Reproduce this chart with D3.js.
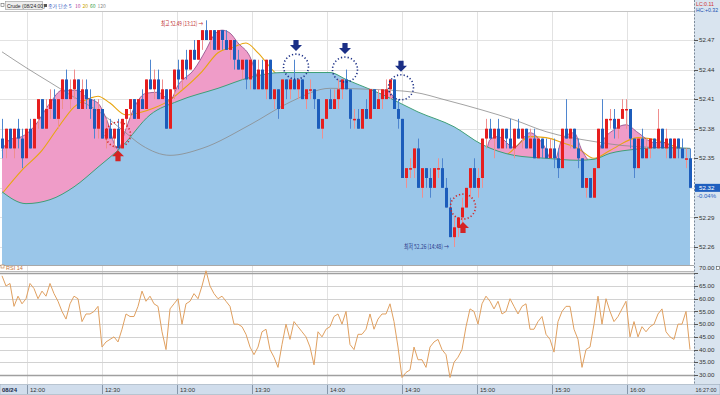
<!DOCTYPE html>
<html><head><meta charset="utf-8">
<script src="https://cdn.jsdelivr.net/npm/d3@7"></script>
<style>body{margin:0;background:#fff;}svg{display:block;font-family:"Liberation Sans","DejaVu Sans",sans-serif;}</style>
</head><body><svg id="c" width="720" height="395"></svg>
<script>
// ---------- DATA ----------
const cOpen=[
52.37,52.36,52.38,52.36,52.38,52.37,52.35,52.38,52.36,52.39,
52.41,52.38,52.40,52.41,52.39,52.41,52.43,52.41,52.42,52.43,
52.40,52.42,52.41,52.40,52.38,52.40,52.37,52.38,52.37,52.38,
52.36,52.39,52.40,52.41,52.39,52.41,52.40,52.43,52.42,52.43,
52.41,52.42,52.38,52.42,52.44,52.43,52.45,52.44,52.46,52.45,
52.47,52.48,52.47,52.48,52.46,52.48,52.47,52.46,52.47,52.45,
52.44,52.45,52.43,52.45,52.42,52.44,52.42,52.45,52.41,52.42,
52.40,52.43,52.42,52.43,52.42,52.43,52.41,52.42,52.42,52.41,
52.38,52.39,52.41,52.40,52.41,52.42,52.43,52.42,52.39,52.39,
52.38,52.40,52.39,52.42,52.40,52.41,52.41,52.42,52.43,52.40,
52.39,52.33,52.34,52.34,52.36,52.32,52.34,52.33,52.32,52.34,
52.34,52.32,52.30,52.27,52.28,52.29,52.30,52.32,52.34,52.32,
52.33,52.37,52.38,52.37,52.38,52.36,52.38,52.37,52.36,52.38,
52.37,52.38,52.36,52.37,52.35,52.37,52.36,52.35,52.36,52.35,
52.34,52.38,52.37,52.38,52.36,52.35,52.32,52.33,52.31,52.34,
52.38,52.36,52.39,52.39,52.38,52.39,52.40,52.40,52.37,52.34,
52.37,52.35,52.36,52.37,52.36,52.38,52.36,52.37,52.35,52.37,
52.36,52.35,52.35];
const cHigh=[
52.39,52.38,52.38,52.38,52.39,52.38,52.38,52.39,52.39,52.41,
52.41,52.41,52.42,52.42,52.41,52.43,52.44,52.43,52.44,52.43,
52.43,52.43,52.42,52.41,52.41,52.40,52.39,52.39,52.38,52.39,
52.39,52.40,52.41,52.41,52.41,52.42,52.43,52.45,52.44,52.44,
52.43,52.42,52.42,52.44,52.45,52.45,52.46,52.46,52.47,52.47,
52.48,52.49,52.48,52.48,52.48,52.48,52.48,52.47,52.47,52.46,
52.45,52.45,52.45,52.45,52.45,52.45,52.45,52.45,52.42,52.42,
52.43,52.43,52.43,52.45,52.43,52.43,52.42,52.43,52.42,52.41,
52.39,52.41,52.42,52.42,52.43,52.43,52.44,52.42,52.40,52.40,
52.40,52.41,52.42,52.42,52.42,52.42,52.43,52.43,52.43,52.41,
52.39,52.34,52.35,52.36,52.37,52.34,52.34,52.34,52.34,52.35,
52.35,52.33,52.31,52.29,52.29,52.31,52.32,52.34,52.35,52.34,
52.37,52.39,52.39,52.38,52.39,52.38,52.38,52.39,52.38,52.39,
52.38,52.38,52.38,52.38,52.37,52.37,52.37,52.37,52.37,52.36,
52.38,52.41,52.38,52.38,52.37,52.35,52.33,52.33,52.34,52.38,
52.41,52.39,52.40,52.40,52.39,52.41,52.41,52.40,52.37,52.37,
52.38,52.37,52.37,52.37,52.40,52.38,52.38,52.37,52.37,52.37,
52.37,52.36,52.36];
const cLow=[
52.35,52.35,52.36,52.35,52.36,52.34,52.35,52.36,52.36,52.38,
52.38,52.38,52.39,52.39,52.38,52.40,52.41,52.40,52.41,52.40,
52.40,52.40,52.39,52.37,52.37,52.37,52.36,52.37,52.36,52.36,
52.36,52.38,52.39,52.39,52.39,52.40,52.40,52.42,52.41,52.41,
52.41,52.38,52.38,52.41,52.42,52.42,52.43,52.44,52.45,52.45,
52.46,52.47,52.46,52.46,52.46,52.46,52.46,52.45,52.44,52.44,
52.43,52.42,52.42,52.42,52.42,52.42,52.41,52.41,52.40,52.39,
52.40,52.41,52.41,52.42,52.41,52.41,52.40,52.41,52.40,52.38,
52.37,52.39,52.40,52.40,52.40,52.41,52.42,52.38,52.38,52.38,
52.38,52.39,52.39,52.40,52.40,52.40,52.41,52.41,52.40,52.38,
52.33,52.32,52.33,52.33,52.32,52.31,52.32,52.31,52.32,52.33,
52.32,52.30,52.27,52.26,52.27,52.28,52.30,52.31,52.32,52.31,
52.32,52.36,52.37,52.35,52.36,52.36,52.36,52.36,52.35,52.37,
52.36,52.36,52.36,52.35,52.35,52.35,52.35,52.35,52.34,52.33,
52.34,52.37,52.36,52.36,52.34,52.32,52.31,52.31,52.31,52.34,
52.36,52.36,52.38,52.37,52.37,52.39,52.38,52.36,52.33,52.34,
52.35,52.35,52.35,52.36,52.36,52.36,52.35,52.35,52.35,52.35,
52.35,52.34,52.32];
const cClose=[
52.36,52.38,52.36,52.38,52.37,52.35,52.38,52.36,52.39,52.41,
52.38,52.40,52.41,52.39,52.41,52.43,52.41,52.42,52.43,52.40,
52.42,52.41,52.40,52.38,52.40,52.37,52.38,52.37,52.38,52.36,
52.39,52.40,52.41,52.39,52.41,52.40,52.43,52.42,52.43,52.41,
52.42,52.38,52.42,52.44,52.43,52.45,52.44,52.46,52.45,52.47,
52.48,52.47,52.48,52.46,52.48,52.47,52.46,52.47,52.45,52.44,
52.45,52.43,52.45,52.42,52.44,52.42,52.45,52.41,52.42,52.40,
52.43,52.42,52.43,52.42,52.43,52.41,52.42,52.42,52.41,52.38,
52.39,52.41,52.40,52.41,52.42,52.43,52.42,52.39,52.39,52.38,
52.40,52.39,52.42,52.40,52.41,52.42,52.42,52.43,52.40,52.39,
52.33,52.34,52.34,52.36,52.32,52.34,52.33,52.32,52.34,52.34,
52.32,52.30,52.27,52.28,52.29,52.30,52.32,52.34,52.32,52.33,
52.37,52.38,52.37,52.38,52.36,52.38,52.37,52.36,52.38,52.37,
52.38,52.36,52.37,52.35,52.37,52.36,52.35,52.36,52.35,52.34,
52.38,52.37,52.38,52.36,52.35,52.32,52.33,52.31,52.34,52.38,
52.36,52.39,52.39,52.38,52.39,52.40,52.40,52.37,52.34,52.37,
52.35,52.36,52.37,52.36,52.38,52.36,52.37,52.35,52.37,52.36,
52.35,52.35,52.32];
// moving averages as [candle index, value]
const ma10=[[0,52.358],[2,52.369],[5,52.372],[8,52.382],[12,52.406],[15,52.419],[19,52.419],[21,52.412],[24,52.406],[26,52.391],[29,52.359],[31,52.380],[33,52.401],[36,52.416],[39,52.417],[42,52.409],[44,52.424],[48,52.440],[51,52.460],[53,52.475],[55,52.480],[57,52.477],[59,52.467],[62,52.453],[64,52.431],[67,52.419],[72,52.424],[80,52.415],[86,52.418],[93,52.410],[96,52.419],[99,52.405],[102,52.38],[106,52.35],[110,52.33],[114,52.30],[118,52.31],[121,52.355],[122,52.369],[124,52.372],[128,52.361],[132,52.376],[135,52.366],[138,52.346],[140,52.369],[143,52.376],[145,52.358],[148,52.344],[150,52.366],[153,52.379],[156,52.384],[159,52.376],[163,52.366],[166,52.366],[168,52.358],[172,52.355]];
const ma20=[[0,52.314],[5,52.338],[10,52.358],[14,52.381],[18,52.402],[22,52.411],[24,52.413],[27,52.406],[31,52.394],[35,52.397],[38,52.401],[42,52.409],[45,52.419],[50,52.438],[54,52.457],[58,52.463],[61,52.467],[64,52.457],[68,52.438],[72,52.425],[82,52.415],[95,52.41],[105,52.37],[113,52.345],[120,52.340],[127,52.356],[132,52.372],[136,52.371],[140,52.366],[144,52.360],[148,52.350],[152,52.358],[159,52.371],[163,52.369],[169,52.361],[172,52.358]];
const ma60=[[0,52.316],[6,52.304],[12,52.308],[18,52.321],[24,52.341],[30,52.362],[37,52.394],[44,52.408],[54,52.421],[62,52.432],[70,52.437],[82,52.437],[86,52.430],[96,52.413],[104,52.397],[113,52.382],[120,52.364],[128,52.353],[136,52.350],[144,52.348],[148,52.349],[152,52.355],[158,52.359],[165,52.361],[172,52.360]];
const ma120=[[0,52.458],[6,52.442],[12,52.427],[18,52.412],[24,52.398],[30,52.379],[35,52.363],[42,52.353],[50,52.360],[62,52.384],[72,52.407],[82,52.421],[92,52.420],[103,52.417],[111,52.409],[120,52.399],[128,52.389],[136,52.377],[148,52.367],[155,52.363],[163,52.361],[172,52.360]];
const rsi=[
69,65,66,57,61,58,60,66,64,60,
63,61,66,62,59,55,52,58,61,60,
51,54,54,55,57,41,43,44,45,43,
48,54,53,53,57,63,59,61,58,57,
47,40,56,58,60,50,58,59,62,60,
65,71,65,62,60,61,59,57,50,50,
49,46,41,38,41,47,48,40,37,33,
42,50,44,51,49,47,45,41,34,47,
45,48,49,53,54,50,55,42,40,46,
46,48,54,48,52,54,54,58,51,41,
29,31,32,41,36,36,33,41,43,44,
40,38,29,35,37,40,49,56,55,50,
58,61,59,56,59,54,55,60,57,54,
57,58,48,48,51,53,46,44,39,51,
55,57,57,48,44,33,40,41,50,61,
50,60,55,51,53,56,59,45,51,45,
49,47,49,50,54,56,47,45,44,50,
50,55,40];
const priceTicks=[52.47,52.44,52.41,52.38,52.35,52.32,52.29,52.26];
const rsiTicks=[70,65,60,55,50,45,40,35,30];
const timeTicks=[720,750,780,810,840,870,900,930,960];
const timeLabels=["12:00","12:30","13:00","13:30","14:00","14:30","15:00","15:30","16:00"];
const sigIdx=[29,73.5,85.75,99.75,115.25];
const sigPrice=[52.374,52.443,52.440,52.422,52.301];
const sigType=["buy","sell","sell","sell","buy"];
const lastPrice=52.32, lastChange="-0.04%";
const hiIdx=51, hiPrice=52.49, hiText="최고 52.49 (13:12) →";
const loIdx=113, loPrice=52.26, loText="최저 52.26 (14:48) →";

// ---------- LAYOUT ----------
const svg=d3.select("#c");
const plotW=694, priceTop=12, priceBot=265;
const x=d3.scaleLinear().domain([-0.5,172.5]).range([0,692]);
const y=d3.scaleLinear().domain([52.26,52.47]).range([247,40]);
const yR=d3.scaleLinear().domain([30,70]).range([375,273.3]);
const xT=d3.scaleLinear().domain([720,990]).range([27,702]);
const UP="#e61e1e", DN="#1c5cbb";

svg.append("rect").attr("width",720).attr("height",395).attr("fill","#fff");
svg.append("rect").attr("x",plotW).attr("y",0).attr("width",26).attr("height",395).attr("fill","#d9e4ef");

const defs=svg.append("defs");
defs.append("clipPath").attr("id","pc").append("rect").attr("x",0).attr("y",priceTop).attr("width",plotW).attr("height",priceBot-priceTop);
defs.append("clipPath").attr("id","rc").append("rect").attr("x",0).attr("y",268).attr("width",plotW).attr("height",112);

// vertical grid
svg.append("g").selectAll("line").data(timeTicks).join("line")
 .attr("x1",d=>Math.round(xT(d))+0.5).attr("x2",d=>Math.round(xT(d))+0.5)
 .attr("y1",priceTop).attr("y2",384).attr("stroke","#e2e2e2");
// price horizontal grid
svg.append("g").selectAll("line").data(priceTicks).join("line")
 .attr("x1",0).attr("x2",plotW).attr("y1",d=>Math.round(y(d))+0.5).attr("y2",d=>Math.round(y(d))+0.5)
 .attr("stroke","#e2e2e2");

const pg=svg.append("g").attr("clip-path","url(#pc)");
const cv=d3.curveMonotoneX;
pg.append("path").datum(ma10).attr("fill","#ef9cc8")
 .attr("d",d3.area().x(d=>x(d[0])).y0(priceBot).y1(d=>y(d[1])).curve(cv));
pg.append("path").datum(ma20).attr("fill","none").attr("stroke","#e8a510").attr("stroke-width",1.1)
 .attr("d",d3.line().x(d=>x(d[0])).y(d=>y(d[1])).curve(cv));
pg.append("path").datum(ma10).attr("fill","none").attr("stroke","#8b4a86").attr("stroke-width",0.8)
 .attr("d",d3.line().x(d=>x(d[0])).y(d=>y(d[1])).curve(cv));
pg.append("path").datum(ma60).attr("fill","#9ac6e9")
 .attr("d",d3.area().x(d=>x(d[0])).y0(priceBot+2).y1(d=>y(d[1])).curve(cv));
pg.append("path").datum(ma60).attr("fill","none").attr("stroke","#3f9f78").attr("stroke-width",1)
 .attr("d",d3.line().x(d=>x(d[0])).y(d=>y(d[1])).curve(cv));
pg.append("path").datum(ma120).attr("fill","none").attr("stroke","#8c8c8c").attr("stroke-width",0.8)
 .attr("d",d3.line().x(d=>x(d[0])).y(d=>y(d[1])).curve(cv));

// candles
const idx=d3.range(cClose.length);
const isUp=i=>cClose[i]>=cOpen[i];
pg.append("g").selectAll("line").data(idx).join("line")
 .attr("x1",i=>x(i)+0.5).attr("x2",i=>x(i)+0.5)
 .attr("y1",i=>y(cHigh[i])).attr("y2",i=>y(cLow[i]))
 .attr("stroke",i=>isUp(i)?"#ef8f8f":"#4f86cf").attr("stroke-width",1);
pg.append("g").selectAll("rect").data(idx).join("rect")
 .attr("x",i=>x(i)-1).attr("width",3)
 .attr("y",i=>y(Math.max(cOpen[i],cClose[i])))
 .attr("height",i=>Math.max(1.5,Math.abs(y(cOpen[i])-y(cClose[i]))))
 .attr("fill",i=>isUp(i)?UP:DN);

// signals
const sg=pg.append("g");
sigIdx.forEach((si,k)=>{
  const cx=x(si), cy=y(sigPrice[k]), r=12.5;
  const col=sigType[k]==="buy"?"#d42424":"#1b2f86";
  sg.append("circle").attr("cx",cx).attr("cy",cy).attr("r",r).attr("fill","none")
    .attr("stroke",col).attr("stroke-width",1.6).attr("stroke-dasharray","1.2,2.2");
  let pts;
  if(sigType[k]==="buy"){const t=cy+r+3;
    pts=[[cx,t],[cx+6,t+6],[cx+2.6,t+6],[cx+2.6,t+11],[cx-2.6,t+11],[cx-2.6,t+6],[cx-6,t+6]];}
  else{const t=cy-r-3;
    pts=[[cx,t],[cx+6,t-6],[cx+2.6,t-6],[cx+2.6,t-11],[cx-2.6,t-11],[cx-2.6,t-6],[cx-6,t-6]];}
  sg.append("polygon").attr("points",pts.map(p=>p.join(",")).join(" ")).attr("fill",col);
});
// hi / lo labels
svg.append("text").attr("x",x(hiIdx)-3).attr("y",y(hiPrice)+6).attr("text-anchor","end")
 .attr("font-family","Noto Sans CJK KR").attr("font-size",6.5).attr("fill","#c0302e")
 .attr("textLength",42).attr("lengthAdjust","spacingAndGlyphs").text(hiText);
svg.append("text").attr("x",x(loIdx)-5).attr("y",y(loPrice)+2).attr("text-anchor","end")
 .attr("font-family","Noto Sans CJK KR").attr("font-size",6.5).attr("fill","#2b3a8c")
 .attr("textLength",45).attr("lengthAdjust","spacingAndGlyphs").text(loText);

// panel borders
svg.append("line").attr("x1",0).attr("x2",plotW).attr("y1",11.5).attr("y2",11.5).attr("stroke","#c4c4c4");
svg.append("line").attr("x1",0).attr("x2",plotW).attr("y1",265.5).attr("y2",265.5).attr("stroke","#a8a8a8");
svg.append("line").attr("x1",0).attr("x2",plotW).attr("y1",271.5).attr("y2",271.5).attr("stroke","#b8b8b8");

// RSI grid
svg.append("g").selectAll("line").data(rsiTicks).join("line")
 .attr("x1",0).attr("x2",plotW).attr("y1",d=>Math.round(yR(d))+0.5).attr("y2",d=>Math.round(yR(d))+0.5)
 .attr("stroke",d=>(d===70||d===30)?"#a0a0a0":"#d2d2d2").attr("stroke-width",d=>(d===70||d===30)?1.3:1);
svg.append("g").attr("clip-path","url(#rc)").append("path").datum(rsi)
 .attr("fill","none").attr("stroke","#e0a060").attr("stroke-width",1)
 .attr("d",d3.line().x((d,i)=>x(i)).y(d=>yR(d)));

// right axis
svg.append("line").attr("x1",plotW+0.5).attr("x2",plotW+0.5).attr("y1",0).attr("y2",395)
 .attr("stroke","#7d8a99").attr("stroke-dasharray","2,1.5");
const ax=svg.append("g");
ax.selectAll("line").data(priceTicks.filter(d=>d!==lastPrice)).join("line")
 .attr("x1",plotW).attr("x2",plotW+4).attr("y1",d=>Math.round(y(d))+0.5).attr("y2",d=>Math.round(y(d))+0.5).attr("stroke","#555");
ax.selectAll("text").data(priceTicks.filter(d=>d!==lastPrice)).join("text")
 .attr("x",plotW+5).attr("y",d=>y(d)+2.2).attr("font-size",6.2).attr("fill","#333").text(d=>d.toFixed(2));
svg.append("rect").attr("x",plotW+1).attr("y",y(lastPrice)-4).attr("width",25).attr("height",8).attr("fill","#1f5fbf");
svg.append("text").attr("x",plotW+5).attr("y",y(lastPrice)+2.3).attr("font-size",6.2).attr("fill","#fff").text(lastPrice.toFixed(2));
svg.append("text").attr("x",plotW+3).attr("y",y(lastPrice)+10).attr("font-size",6).attr("fill","#1f5fbf").text(lastChange);
svg.append("text").attr("x",plotW+2).attr("y",5.5).attr("font-size",5.2).attr("fill","#d03030").text("LC:0.11");
svg.append("text").attr("x",plotW+2).attr("y",11.5).attr("font-size",5.2).attr("fill","#2050b0").text("HC:+0.32");
const rx=svg.append("g");
rx.selectAll("line").data(rsiTicks).join("line")
 .attr("x1",plotW).attr("x2",plotW+4).attr("y1",d=>Math.round(yR(d))+0.5).attr("y2",d=>Math.round(yR(d))+0.5).attr("stroke","#555");
rx.selectAll("text").data(rsiTicks).join("text")
 .attr("x",plotW+5).attr("y",d=>yR(d)+2.2-(d===70?6:0)).attr("font-size",6.2).attr("fill","#333").text(d=>d.toFixed(2));
svg.append("rect").attr("x",716.5).attr("y",266.5).attr("width",3).attr("height",3).attr("fill","#fff").attr("stroke","#555").attr("stroke-width",0.6);

// legends
svg.append("rect").attr("x",1).attr("y",3.5).attr("width",3).attr("height",3).attr("fill","#fff").attr("stroke","#666").attr("stroke-width",0.6);
svg.append("rect").attr("x",5.5).attr("y",1.5).attr("width",37).attr("height",8).attr("fill","#eeeeee").attr("stroke","#9a9a9a").attr("stroke-width",0.6);
svg.append("text").attr("x",7).attr("y",8).attr("font-size",5).attr("fill","#222").text("Crude (08/24:00)");
svg.append("rect").attr("x",44).attr("y",4).attr("width",3).attr("height",3).attr("fill","#555");
const legItems=[["종가 단순 5","#3458c0",48],["10","#b0409a",75],["20","#c9a400",82.5],["60","#2f9a3a",90],["120","#8a8a8a",97.5]];
svg.append("g").selectAll("text").data(legItems).join("text")
 .attr("x",d=>d[2]).attr("y",8).attr("font-size",5).attr("font-family","Noto Sans CJK KR")
 .attr("fill",d=>d[1]).text(d=>d[0]);
svg.append("rect").attr("x",1).attr("y",265).attr("width",3).attr("height",3).attr("fill","#fff").attr("stroke","#c07a40").attr("stroke-width",0.6);
svg.append("text").attr("x",6).attr("y",270).attr("font-size",5.5).attr("fill","#c4743a").text("RSI 14");

// x axis bar
svg.append("rect").attr("x",0).attr("y",384.5).attr("width",720).attr("height",10).attr("fill","#d0ddec").attr("stroke","#9aa8b8").attr("stroke-width",0.6);
svg.append("g").selectAll("line").data(timeTicks).join("line")
 .attr("x1",d=>Math.round(xT(d))+0.5).attr("x2",d=>Math.round(xT(d))+0.5).attr("y1",385).attr("y2",394).attr("stroke","#8797aa");
svg.append("g").selectAll("text").data(timeTicks).join("text")
 .attr("x",d=>xT(d)+3).attr("y",392).attr("font-size",6).attr("fill","#333").text((d,i)=>timeLabels[i]);
svg.append("text").attr("x",2).attr("y",392).attr("font-size",6).attr("font-weight","bold").attr("fill","#1a2a4a").text("08/24");
svg.append("text").attr("x",plotW+1.5).attr("y",392).attr("font-size",5.4).attr("fill","#333").text("16:27:00");
</script></body></html>
